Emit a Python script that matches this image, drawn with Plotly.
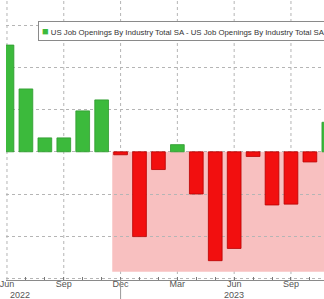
import plotly.graph_objects as go

months = ["Jun 2022", "Jul 2022", "Aug 2022", "Sep 2022", "Oct 2022", "Nov 2022",
          "Dec 2022", "Jan 2023", "Feb 2023", "Mar 2023", "Apr 2023", "May 2023",
          "Jun 2023", "Jul 2023", "Aug 2023", "Sep 2023", "Oct 2023", "Nov 2023"]
values = [1265, 745, 165, 165, 485, 615,
          -35, -1005, -210, 85, -500, -1290,
          -1145, -55, -630, -620, -120, 350]
tick_months = ["Jun 2022", "Sep 2022", "Dec 2022", "Mar 2023", "Jun 2023", "Sep 2023"]
tick_labels = ["Jun", "Sep", "Dec", "Mar", "Jun", "Sep"]
years = ["2022", "2023"]
shade_bottom = -1420
series_name = "US Job Openings By Industry Total SA - US Job Openings By Industry Total SA"

GREEN = "#3cba3c"
GREEN_EDGE = "#2f9a2f"
RED = "#f20f0f"
RED_EDGE = "#b80000"
FONT = "Liberation Sans, Arial"

colors = [GREEN if v >= 0 else RED for v in values]
edges = [GREEN_EDGE if v >= 0 else RED_EDGE for v in values]

fig = go.Figure()
fig.add_trace(go.Bar(
    x=months, y=values, width=0.726,
    marker=dict(color=colors, line=dict(color=edges, width=0.8)),
    name=series_name, showlegend=False,
))

# pink shaded region
fig.add_shape(type="rect", xref="x", yref="y", x0=5.56, x1=18, y0=0, y1=shade_bottom,
              fillcolor="#f8c0c0", line=dict(width=0), layer="below")

ticktext_all = [tick_labels[tick_months.index(m)] if m in tick_months else "" for m in months]

fig.update_xaxes(
    type="category", range=[-0.052, 16.745],
    tickvals=months, ticktext=ticktext_all,
    ticks="inside", ticklen=3, tickcolor="#777", tickwidth=1,
    showline=True, linecolor="#8a8a8a", linewidth=1,
    showgrid=False, ticklabelstandoff=-5,
    tickfont=dict(family=FONT, size=9, color="#555"),
)
# vertical dotted gridlines at quarter ticks
for m in tick_months:
    fig.add_shape(type="line", xref="x", yref="paper", x0=m, x1=m, y0=0, y1=1,
                  line=dict(color="#b5b5b5", width=1, dash="dot"), layer="below")

fig.update_yaxes(
    range=[-1519, 1799], dtick=500, tick0=0,
    showgrid=True, gridcolor="#b5b5b5", griddash="dot", gridwidth=1,
    zeroline=False, showticklabels=False, showline=False,
)

# year separator
fig.add_shape(type="line", xref="x", yref="paper", x0="Dec 2022", x1="Dec 2022",
              y0=-19 / 280, y1=0.004, line=dict(color="#999", width=1))

for xpos, yr in [(0.67, years[0]), (12, years[1])]:
    fig.add_annotation(x=xpos, y=-15 / 280, xref="x", yref="paper", text=yr, showarrow=False,
                       font=dict(family=FONT, size=9, color="#555"),
                       xanchor="center", yanchor="middle")

# legend box
fig.add_annotation(
    x=33 / 324, y=1 - 20.5 / 280, xref="paper", yref="paper", xanchor="left", yanchor="top",
    text=f'<span style="color:{GREEN};font-size:11px">■</span> {series_name}',
    showarrow=False, align="left",
    font=dict(family=FONT, size=7.8, color="#333"),
    bgcolor="white", bordercolor="#8a8a8a", borderwidth=1, borderpad=3,
)

fig.update_layout(
    width=324, height=299,
    margin=dict(l=0, r=0, t=0, b=19),
    plot_bgcolor="white", paper_bgcolor="white",
    bargap=0.27,
)

fig.write_html("out.html")
